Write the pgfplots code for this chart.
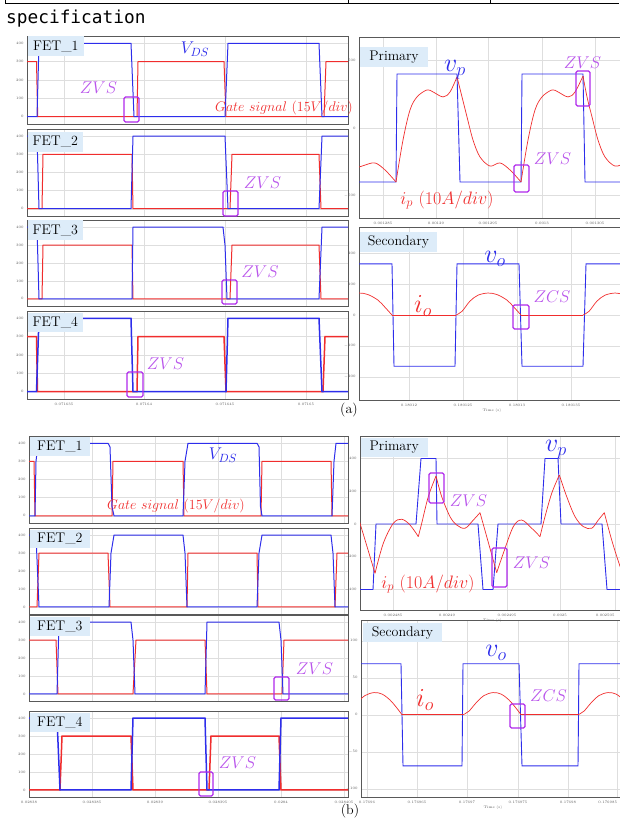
\RequirePackage{fix-cm}
\documentclass[border=0pt]{standalone}
\usepackage{fontspec}
\usepackage{pgfplots}
\pgfplotsset{compat=1.18}
\newfontfamily\monofont{DejaVu Sans Mono}
\definecolor{vblue}{RGB}{45,45,235}
\definecolor{gred}{RGB}{240,45,45}
\definecolor{zvs}{RGB}{175,40,235}
\definecolor{zvstext}{RGB}{185,85,235}
\definecolor{lblbg}{RGB}{221,236,249}
\pgfplotsset{
  panel/.style={scale only axis, anchor=north west, clip=true,
    axis line style={draw=black!65, line width=0.9pt},
    grid=major, grid style={draw=black!13, line width=0.4pt},
    major tick length=0pt,
    tick label style={font=\fontsize{3.6}{4}\selectfont, text=black!65},
    xticklabel style={yshift=-1pt},
  },
  fetA/.style={panel, width=321pt, xmin=27, xmax=348, ymin=-40, ymax=440,
    ytick={0,100,200,300,400}, xtick={64,144,225,306}, xticklabels={}},
  fetB/.style={panel, width=319pt, xmin=29, xmax=348, ymin=-40, ymax=440,
    ytick={0,100,200,300,400}, xtick={29,92,155,218,281,344}, xticklabels={}},
  vds/.style={vblue, line width=1pt},
  gate/.style={gred, line width=1pt},
  vds4/.style={vblue, line width=1.5pt},
  gate4/.style={gred, line width=1.5pt},
  wblue/.style={vblue, line width=0.9pt},
  wred/.style={gred, line width=0.7pt, smooth, tension=0.55},
}
\newcommand{\zbox}[4]{\draw[zvs, line width=1.3pt, rounded corners=1.5pt] (#1pt,-#2pt) rectangle (#3pt,-#4pt);}
\begin{document}
\begin{tikzpicture}
\path[use as bounding box] (0,0) rectangle (619pt,-818pt);
% header
\draw[line width=1pt] (5pt,0pt) -- (5pt,-3.5pt) -- (619pt,-3.5pt);
\draw[line width=1pt] (348pt,0pt) -- (348pt,-3.5pt);
\draw[line width=1pt] (490pt,0pt) -- (490pt,-3.5pt);
\node[anchor=base west, font=\monofont\fontsize{17.8}{18}\selectfont, inner sep=0] at (6pt,-24pt) {specification};

% ================= (a) left =================
\begin{axis}[fetA, at={(27pt,-36pt)}, height=88pt]
\addplot[gate] coordinates {(27,300)(36.5,300)(37.7,0)(137,0)(138,300)(224,300)(226,0)(324,0)(326,300)(348,300)};
\addplot[vds] coordinates {(27,0)(37,0)(39,400)(131,400)(134,0)(225,0)(228,400)(319,400)(322,0)(348,0)};
\end{axis}
\begin{axis}[fetA, at={(27pt,-129pt)}, height=87pt]
\addplot[gate] coordinates {(27,0)(42,0)(43,300)(132,300)(133,0)(230,0)(232,300)(319,300)(321,0)(348,0)};
\addplot[vds] coordinates {(27,400)(37,400)(39,0)(131,0)(133,400)(225,400)(228,0)(319,0)(322,400)(348,400)};
\end{axis}
\begin{axis}[fetA, at={(27pt,-220pt)}, height=86pt]
\addplot[gate] coordinates {(27,0)(42,0)(43,300)(132,300)(133,0)(230,0)(232,300)(319,300)(321,0)(348,0)};
\addplot[vds] coordinates {(27,400)(37,400)(39,0)(132,0)(133,400)(223,400)(225,300)(227,0)(319,0)(322,400)(348,400)};
\end{axis}
\begin{axis}[fetA, at={(27pt,-311pt)}, height=88pt,
  xticklabels={0.071635,0.07164,0.071645,0.07165}]
\addplot[gate4] coordinates {(27,300)(36.5,300)(37.5,0)(137,0)(138,300)(224,300)(226,0)(323,0)(325,300)(348,300)};
\addplot[vds4] coordinates {(27,0)(36.5,0)(39,400)(131,400)(133,0)(226,0)(228,400)(319,400)(322,0)(348,0)};
\end{axis}

% ================= (a) right =================
\begin{axis}[panel, at={(359pt,-37pt)}, width=266pt, height=181pt,
  xmin=359, xmax=625, ymin=-667, ymax=674, ytick={-500,0,500},
  xtick={383,436,488,542,595}, xticklabels={0.001285,0.00129,0.001295,0.0013,0.001305}]
\addplot[wblue] coordinates {(359,-400)(396,-400)(397,400)(457,400)(460,-400)(521,-400)(522,400)(583,400)(585,-400)(625,-400)};
\addplot[wred] coordinates {(355,-285)(359,-289)(365,-275)(375,-259)(385,-311)(396,-400)};
\addplot[wred] coordinates {(396,-400)(403,-89)(410,133)(417,230)(427,282)(433,267)(443,230)(450,267)(457,378)};
\addplot[wred] coordinates {(457,378)(462,230)(467,82)(473,-89)(480,-215)(490,-282)(500,-259)(510,-311)(521,-400)};
\addplot[wred] coordinates {(521,-400)(528,-89)(535,133)(542,230)(552,282)(558,267)(568,230)(575,267)(583,385)};
\addplot[wred] coordinates {(583,385)(587,230)(592,82)(598,-89)(605,-215)(615,-282)(625,-259)};
\end{axis}
\begin{axis}[panel, at={(359pt,-227pt)}, width=266pt, height=173pt,
  xmin=359, xmax=625, ymin=-274, ymax=284, ytick={-200,-100,0,100,200},
  xtick={409,463,517,571}, xticklabels={0.18012,0.180125,0.18013,0.180135},
  xlabel={Time (s)}, xlabel style={font=\fontsize{3.6}{4}\selectfont, text=black!65, yshift=5pt}]
\addplot[wblue] coordinates {(355,165)(392,165)(394,-165)(455,-165)(457,165)(519,165)(522,-165)(583,-165)(586,165)(625,165)};
\addplot[wred] coordinates {(349,64)(359,71)(368,66)(378,48)(385,25)(392,0)};
\addplot[gred, line width=0.7pt] coordinates {(392,0)(456,0)};
\addplot[wred] coordinates {(456,0)(462,12)(470,45)(478,64)(488,71)(497,66)(507,48)(514,25)(521,0)};
\addplot[gred, line width=0.7pt] coordinates {(521,0)(583,0)};
\addplot[wred] coordinates {(583,0)(589,12)(597,45)(605,64)(615,71)(624,66)};
\end{axis}

% ================= (b) left =================
\begin{axis}[fetB, at={(29pt,-436pt)}, height=87pt]
\addplot[gate] coordinates {(29,300)(34,300)(35,0)(112,0)(113,300)(183,300)(184,0)(261,0)(262,300)(331,300)(332,0)(348,0)};
\addplot[vds] coordinates {(29,0)(35,0)(36,300)(38,400)(108,400)(110,380)(112,50)(114,0)(183,0)(185,300)(188,400)(257,400)(259,380)(260.5,50)(262,0)(332,0)(334,300)(336,400)(348,400)};
\end{axis}
\begin{axis}[fetB, at={(29pt,-528pt)}, height=86pt]
\addplot[gate] coordinates {(29,0)(37,0)(39,300)(108,300)(110,0)(187,0)(188,300)(257,300)(258,0)(335,0)(337,300)(348,300)};
\addplot[vds] coordinates {(29,400)(36,400)(39,0)(109,0)(111,300)(114,400)(183,400)(185,300)(187,0)(257,0)(259,300)(262,400)(331,400)(333,300)(335,0)(348,0)};
\end{axis}
\begin{axis}[fetB, at={(29pt,-615pt)}, height=86pt]
\addplot[gate] coordinates {(29,300)(56,300)(58,0)(133,0)(136,300)(205,300)(207,0)(282,0)(284,300)(348,300)};
\addplot[vds] coordinates {(29,0)(57,0)(59,400)(131,400)(133,300)(135,0)(205,0)(207,400)(279,400)(281,300)(283,0)(348,0)};
\end{axis}
\begin{axis}[fetB, at={(29pt,-711pt)}, height=86pt,
  xticklabels={0.02838,0.028385,0.02839,0.028395,0.0284,0.028405}]
\addplot[gate4] coordinates {(29,0)(60,0)(62,300)(131,300)(133,0)(209,0)(211,300)(279,300)(281,0)(348,0)};
\addplot[vds4] coordinates {(29,400)(57,400)(60,0)(131,0)(133,400)(205,400)(207,0)(279,0)(281,400)(348,400)};
\end{axis}

% ================= (b) right =================
\begin{axis}[panel, at={(360pt,-436pt)}, width=265pt, height=174pt,
  xmin=360, xmax=625, ymin=-525, ymax=537, ytick={-400,-200,0,200,400},
  xtick={393,447,507,560,615}, xticklabels={0.002485,0.00249,0.002495,0.0025,\makebox[0pt][r]{0.002505\hspace{0.5pt}}},
  xlabel={Time (s)}, xlabel style={font=\fontsize{3.6}{4}\selectfont, text=black!65, yshift=5pt}]
\addplot[wblue] coordinates {(355,-400)(373,-400)(376,0)(416,0)(421,400)(436,400)(437,0)(478,0)(483,-400)(493,-400)(498,0)(541,0)(545,400)(558,400)(561,0)(602,0)(607,-400)(625,-400)};
\addplot[wred] coordinates {(357,55)(360,4)(375,-301)};
\addplot[wred] coordinates {(375,-301)(383.3,-118)(393.3,4)(401.7,29)(410,-6)(418.3,-77)};
\addplot[wred] coordinates {(418.3,-77)(421.7,4)(428.3,167)(436,293)};
\addplot[wred] coordinates {(436,293)(441.7,167)(450,45)(456.7,-6)(465,-26)(473.3,24)(480,69)};
\addplot[wred] coordinates {(480,69)(486.7,-77)(496.7,-297)};
\addplot[wred] coordinates {(496.7,-297)(503.3,-179)(513.3,-16)(521.7,24)(531.7,-26)(540,-77)};
\addplot[wred] coordinates {(540,-77)(545,45)(551.7,187)(559.3,299)};
\addplot[wred] coordinates {(559.3,299)(566.7,167)(575,45)(583.3,-16)(591.7,-26)(598.3,24)(604.3,69)};
\addplot[wred] coordinates {(604.3,69)(611.7,-98)(619,-240)(625,-340)};
\end{axis}
\begin{axis}[panel, at={(361pt,-620pt)}, width=264pt, height=177pt,
  xmin=361, xmax=625, ymin=-111, ymax=128, ytick={-100,-50,0,50,100},
  xtick={367,417,467,518,568,617}, xticklabels={0.17696,0.176965,0.17697,0.176975,0.17698,\makebox[0pt][r]{0.176985}},
  xlabel={Time (s)}, xlabel style={font=\fontsize{3.6}{4}\selectfont, text=black!65, yshift=5pt}]
\addplot[wblue] coordinates {(355,69)(401,69)(403,-69)(462,-69)(463,69)(519,69)(522,-69)(578,-69)(579,69)(625,69)};
\addplot[wred] coordinates {(350,5)(357,16)(365,26)(374,30)(382,28)(390,20)(397,9)(402,0)};
\addplot[gred, line width=0.7pt] coordinates {(402,0)(463,0)};
\addplot[wred] coordinates {(463,0)(469,5)(476,16)(484,26)(493,30)(501,28)(509,20)(516,9)(521,0)};
\addplot[gred, line width=0.7pt] coordinates {(521,0)(578,0)};
\addplot[wred] coordinates {(578,0)(584,5)(591,16)(599,26)(608,30)(616,28)(624,20)};
\end{axis}

% ================= annotations =================
\def\lb#1#2#3#4#5{\fill[lblbg] (#1pt,-#2pt) rectangle (#3pt,-#4pt);
  \node[font=\fontsize{14}{14}\selectfont, inner sep=0] at ({(#1+#3)/2*1pt},{-(#2+#4)/2*1pt}) {#5};}
\lb{27.5}{36.5}{84}{56}{FET\_1}
\lb{27.5}{132}{83}{152}{FET\_2}
\lb{27.5}{220.5}{83}{240}{FET\_3}
\lb{27.5}{313}{83}{332}{FET\_4}
\lb{360}{47}{428}{67}{Primary}
\lb{360}{232}{437}{252}{Secondary}
\lb{29.5}{436.5}{90}{456}{FET\_1}
\lb{29.5}{530}{90}{548}{FET\_2}
\lb{29.5}{617}{90}{636}{FET\_3}
\lb{29.5}{713}{90}{732}{FET\_4}
\lb{360.5}{438}{428}{457}{Primary}
\lb{363}{623}{442}{642}{Secondary}

\tikzset{zt/.style={text=zvstext, font=\fontsize{17}{17}\selectfont, inner sep=0}}
\node[zt] at (98.5pt,-88pt) {$ZVS$};
\node[zt] at (262.5pt,-183pt) {$ZVS$};
\node[zt] at (260pt,-272pt) {$ZVS$};
\node[zt] at (165.5pt,-364pt) {$ZVS$};
\node[zt] at (582.5pt,-63pt) {$ZVS$};
\node[zt] at (552.5pt,-159pt) {$ZVS$};
\node[zt] at (552pt,-297pt) {$ZCS$};
\node[zt] at (314.5pt,-669pt) {$ZVS$};
\node[zt] at (237.5pt,-763pt) {$ZVS$};
\node[zt] at (468.5pt,-501pt) {$ZVS$};
\node[zt] at (531.5pt,-563pt) {$ZVS$};
\node[zt] at (548.5pt,-696pt) {$ZCS$};

\zbox{124}{97}{139}{122}
\zbox{223}{191}{238}{216}
\zbox{222}{280}{237}{304}
\zbox{127}{372}{143}{397}
\zbox{576}{71}{590}{106}
\zbox{514}{165}{529}{192}
\zbox{513}{305}{529}{329}
\zbox{274}{677}{289}{700}
\zbox{199}{772}{213}{796}
\zbox{429}{473}{444}{503}
\zbox{492}{548}{507}{587}
\zbox{510}{704}{525}{728}

\tikzset{bt/.style={text=vblue, inner sep=0}, rt/.style={text=gred, inner sep=0}}
\node[bt, font=\fontsize{17}{17}\selectfont] at (195pt,-49pt) {$V_{DS}$};
\node[rt, font=\fontsize{14}{14}\selectfont] at (284pt,-108pt) {$Gate\ signal\ (15V/div)$};
\node[bt, font=\fontsize{26}{26}\selectfont] at (455pt,-70pt) {$v_p$};
\node[rt, font=\fontsize{18}{18}\selectfont] at (447pt,-200pt) {$i_p\ (10A/div)$};
\node[bt, font=\fontsize{26}{26}\selectfont] at (495pt,-259pt) {$v_o$};
\node[rt, font=\fontsize{26}{26}\selectfont] at (423pt,-306pt) {$i_o$};
\node[bt, font=\fontsize{17}{17}\selectfont] at (223pt,-455pt) {$V_{DS}$};
\node[rt, font=\fontsize{14}{14}\selectfont] at (176pt,-506pt) {$Gate\ signal\ (15V/div)$};
\node[bt, font=\fontsize{26}{26}\selectfont] at (556pt,-450pt) {$v_p$};
\node[rt, font=\fontsize{18}{18}\selectfont] at (428pt,-584pt) {$i_p\ (10A/div)$};
\node[bt, font=\fontsize{26}{26}\selectfont] at (496pt,-653pt) {$v_o$};
\node[rt, font=\fontsize{26}{26}\selectfont] at (425pt,-700pt) {$i_o$};

\node[font=\fontsize{14}{14}\selectfont, inner sep=0] at (349pt,-410pt) {(a)};
\node[font=\fontsize{14}{14}\selectfont, inner sep=0] at (350pt,-811pt) {(b)};
\end{tikzpicture}
\end{document}
